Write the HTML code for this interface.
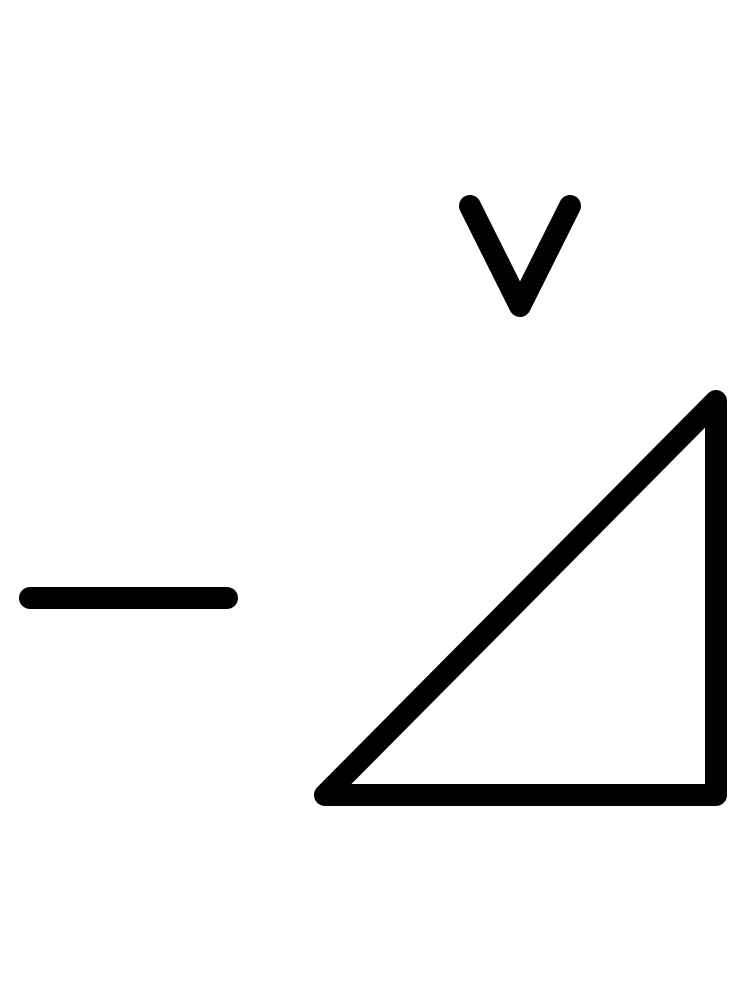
<!DOCTYPE html>
<html>
<head>
<meta charset="utf-8">
<style>
  html, body { margin: 0; padding: 0; background: #fff; }
  svg { display: block; }
</style>
</head>
<body>
<svg width="746" height="1000" viewBox="0 0 746 1000">
  <rect x="0" y="0" width="746" height="1000" fill="#fff"/>
  <g fill="none" stroke="#000" stroke-width="22" stroke-linecap="round" stroke-linejoin="round">
    <polyline points="470,206 520,306 570,206"/>
    <line x1="30" y1="598" x2="227" y2="598"/>
    <polygon points="325,795 716,401 716,795"/>
  </g>
</svg>
</body>
</html>
